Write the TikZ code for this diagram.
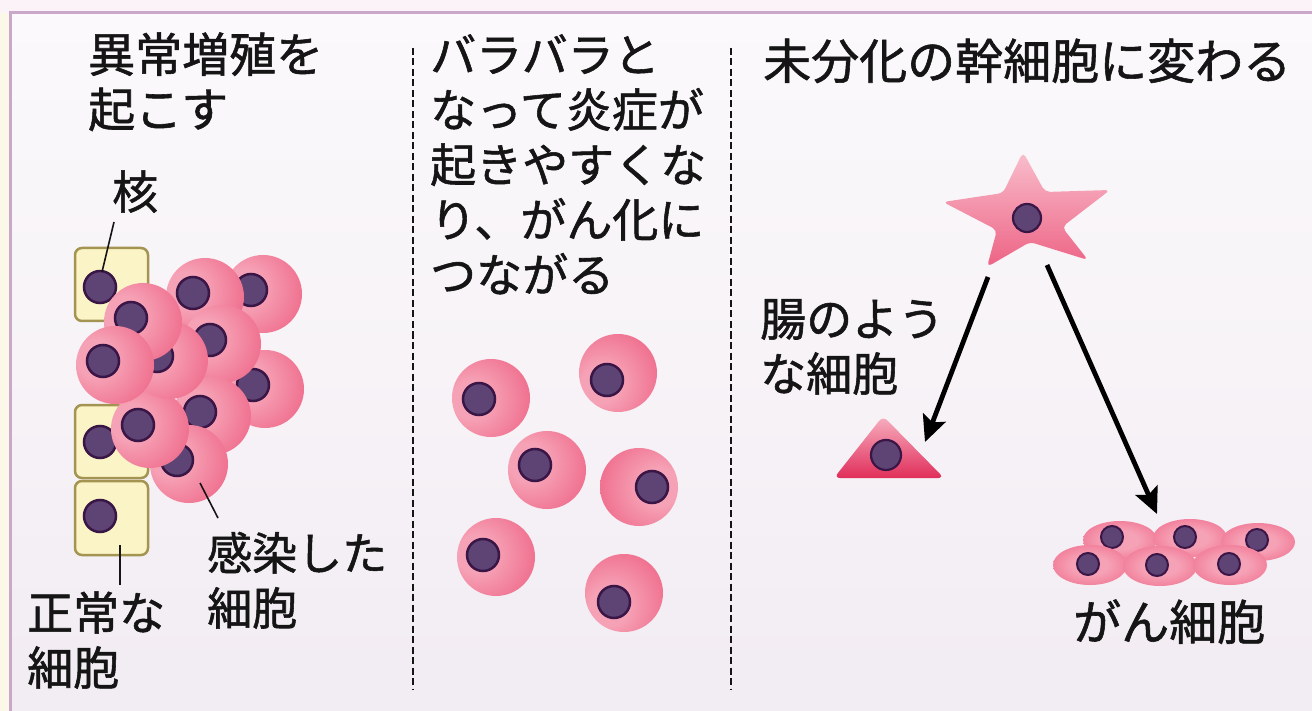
\documentclass[tikz,border=0pt]{standalone}
\usepackage{fontspec}
\setmainfont{Noto Sans CJK JP}[FakeBold=1.2]
\usetikzlibrary{arrows.meta}

\definecolor{pagepink}{HTML}{FCF3F8}
\definecolor{pagecream}{HTML}{FBF8EA}
\definecolor{framelilac}{HTML}{C9A8C9}
\definecolor{panelmid}{HTML}{F7F3F7}
\definecolor{panelbottom}{HTML}{ECE5EE}
\definecolor{cellhi}{HTML}{F6A2B6}
\definecolor{cellmid}{HTML}{EF6C8C}
\definecolor{cellrim}{HTML}{E02E5A}
\definecolor{nucfill}{HTML}{5E4474}
\definecolor{nucrim}{HTML}{3A1646}
\definecolor{normfill}{HTML}{FAF4C6}
\definecolor{normrim}{HTML}{A49452}
\definecolor{ink}{HTML}{151515}

% round cell: bright spot shifted towards the nucleus
\pgfdeclareradialshading{roundcell}{\pgfpoint{0bp}{16bp}}{%
  color(0bp)=(cellhi); color(12bp)=(cellhi); color(36bp)=(cellmid);
  color(56bp)=(cellrim); color(72bp)=(cellrim)}
% flat cell: bright centre
\pgfdeclareradialshading{flatcell}{\pgfpoint{0bp}{0bp}}{%
  color(0bp)=(cellhi); color(12bp)=(cellhi); color(34bp)=(cellmid);
  color(48bp)=(cellrim); color(60bp)=(cellrim)}
% page background fading from white to lilac
\pgfdeclareverticalshading{panelfade}{100bp}{%
  color(0bp)=(panelbottom); color(50bp)=(panelmid); color(100bp)=(white)}

% pink cell: centre x, centre y, nucleus x, nucleus y
\newcommand\pinkcell[4]{%
  \pgfmathsetmacro\cellang{atan2(-((#3)-(#1)),-((#4)-(#2)))}%
  \shade[shading=roundcell, shading angle=\cellang] (#1,#2) circle[radius=39];
  \draw[nucleus] (#3,#4) circle[radius=16];
}

\begin{document}
\begin{tikzpicture}[x=1pt,y=-1pt,
  nucleus/.style={fill=nucfill, draw=nucrim, line width=2.5pt},
  normalcell/.style={fill=normfill, draw=normrim, line width=2.5pt, rounded corners=7pt},
  divider/.style={draw=ink, line width=1.8pt, dash pattern=on 7pt off 3.5pt},
  leader/.style={draw=ink, line width=1.6pt},
  bigarrow/.style={draw=black, line width=4.8pt, -{Stealth[length=26pt,width=24pt,inset=5pt]}},
  lbl/.style={anchor=base west, inner sep=0pt, align=left, text=ink,
    font=\fontsize{#1pt}{55pt}\selectfont},
  lbl/.default=46]

\useasboundingbox (0,0) rectangle (1312,711);

% page, panel and frame
\fill[pagepink] (0,0) rectangle (1312,711);
\fill[pagecream] (0,13) rectangle (10,711);
\shade[shading=panelfade] (10,13) rectangle (1312,711);
\draw[framelilac, line width=3pt] (10,711) -- (10,13) -- (1312,13);

% column dividers
\draw[divider] (413,48) -- (413,690);
\draw[divider] (731,48) -- (731,690);

% ---- left column: abnormal growth ----
% (multi-line labels are placed by the baseline of their last line)
\node[lbl=47] (titleA) at (88,127) {異常増殖を\\起こす};

\draw[normalcell] (75,248) rectangle (148,321);
\draw[normalcell] (75,405) rectangle (148,478);
\draw[normalcell] (75,481) rectangle (148,555);
\draw[nucleus] (100,287) circle[radius=16];
\draw[nucleus] (100,442) circle[radius=16];
\draw[nucleus] (100,516) circle[radius=16];

\pinkcell{263}{294}{251}{290}
\pinkcell{265}{389}{253}{385}
\pinkcell{205}{297}{193}{293}
\pinkcell{222}{344}{210}{340}
\pinkcell{212}{416}{200}{412}
\pinkcell{189}{464}{177}{460}
\pinkcell{150}{429}{138}{425}
\pinkcell{169}{360}{157}{356}
\pinkcell{143}{322}{131}{318}
\pinkcell{115}{365}{103}{361}

\node[lbl] (lblNuc) at (112,209) {核};
\coordinate (nucFrom) at (114,222);
\coordinate (nucTo) at (102,272);
\draw[leader] (nucFrom) -- (nucTo);

\node[lbl=45] (lblInfected) at (207,625) {感染した\\細胞};
\coordinate (infFrom) at (218,518);
\coordinate (infTo) at (200,483);
\draw[leader] (infFrom) -- (infTo);

\node[lbl] (lblNormal) at (27,685) {正常な\\細胞};
\coordinate (normFrom) at (120,585);
\coordinate (normTo) at (120,545);
\draw[leader] (normFrom) -- (normTo);

% ---- middle column: scattered cells ----
\node[lbl] (titleB) at (430,292) {バラバラと\\なって炎症が\\起きやすくな\\り、がん化に\\つながる};

\pinkcell{491}{398}{479}{399}
\pinkcell{618}{373}{607}{380}
\pinkcell{547}{470}{535}{465}
\pinkcell{639}{487}{652}{487}
\pinkcell{496}{557}{483}{555}
\pinkcell{624}{593}{614}{602}

% ---- right column: dedifferentiation ----
\node[lbl=48] (titleC) at (763,79) {未分化の幹細胞に変わる};

% stem cell
\shade[top color=cellhi!70!white, bottom color=cellmid!85!cellrim, rounded corners=5pt]
  (1023,152) -- (1045,192) -- (1110,190) -- (1062,227) -- (1088,260)
  -- (1030,242) -- (987,267) -- (997,230) -- (943,202) -- (1003,193) -- cycle;
\draw[nucleus, line width=2.2pt] (1027,218) circle[radius=14];

% intestine-like cell
\shade[top color=cellhi!85!white, bottom color=cellrim, rounded corners=6pt]
  (883,416) -- (944,478) -- (834,478) -- cycle;
\draw[nucleus, line width=2.2pt] (886,455) circle[radius=15];
\node[lbl] (lblIntest) at (760,391) {腸のよう\\な細胞};

% cancer cells
\foreach \cx/\cy in {1120/540, 1190/538, 1258/542}
  \shade[shading=flatcell] (\cx,\cy) ellipse[x radius=37, y radius=19];
\foreach \nx/\ny in {1112/537, 1185/537, 1257/540}
  \draw[nucleus, line width=2pt] (\nx,\ny) circle[radius=11];
\foreach \cx/\cy in {1090/565, 1160/566, 1230/565}
  \shade[shading=flatcell] (\cx,\cy) ellipse[x radius=37, y radius=20];
\foreach \nx/\ny in {1088/564, 1157/565, 1229/564}
  \draw[nucleus, line width=2pt] (\nx,\ny) circle[radius=11];
\node[lbl=48] (lblCancer) at (1073,640) {がん細胞};

% differentiation arrows
\coordinate (stemLeft) at (988,277);
\coordinate (intestTop) at (925,442);
\coordinate (stemRight) at (1047,265);
\coordinate (cancerTop) at (1157,514);
\draw[bigarrow] (stemLeft) -- (intestTop);
\draw[bigarrow] (stemRight) -- (cancerTop);

\end{tikzpicture}
\end{document}
